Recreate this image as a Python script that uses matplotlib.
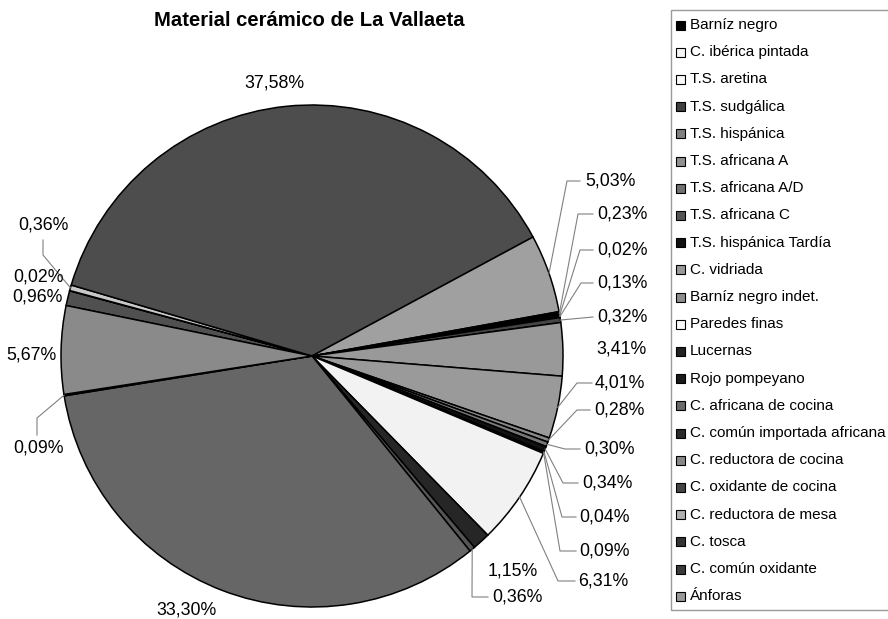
import numpy as np
import matplotlib.pyplot as plt
from matplotlib.patches import Rectangle

plt.rcParams['font.family'] = ['Liberation Sans', 'DejaVu Sans']

categories = ['Barníz negro', 'C. ibérica pintada', 'T.S. aretina', 'T.S. sudgálica',
              'T.S. hispánica', 'T.S. africana A', 'T.S. africana A/D', 'T.S. africana C',
              'T.S. hispánica Tardía', 'C. vidriada', 'Barníz negro indet.', 'Paredes finas',
              'Lucernas', 'Rojo pompeyano', 'C. africana de cocina',
              'C. común importada africana', 'C. reductora de cocina', 'C. oxidante de cocina',
              'C. reductora de mesa', 'C. tosca', 'C. común oxidante', 'Ánforas']
percent = [0.96, 0.02, 0.36, 37.58, 5.03, 0.23, 0.02, 0.13, 0.32, 3.41, 4.01, 0.28,
           0.30, 0.34, 0.04, 0.09, 6.31, 1.15, 0.36, 33.30, 0.09, 5.67]

# grey tones as they come out in the slices and in the legend
slice_colors = ['#505050', '#cccccc', '#c8c8c8', '#4d4d4d', '#a0a0a0', '#000000', '#222222',
                '#111111', '#444444', '#999999', '#9a9a9a', '#888888', '#777777', '#111111',
                '#333333', '#000000', '#f2f2f2', '#262626', '#555555', '#666666', '#444444',
                '#8a8a8a']
legend_colors = ['#000000', '#f4f4f4', '#f8f8f8', '#404040', '#808080', '#909090', '#707070',
                 '#555555', '#111111', '#999999', '#8c8c8c', '#f8f8f8', '#222222', '#1a1a1a',
                 '#6a6a6a', '#2a2a2a', '#888888', '#444444', '#b0b0b0', '#333333', '#3a3a3a',
                 '#999999']

# label centres (pixels) and leader elbows, same order as categories
label_xy = [(37, 297), (38, 277), (43, 225), (274, 83), (610, 181), (622, 214), (622, 250),
            (622, 283), (622, 317), (621, 349), (620, 383), (619, 410), (609, 449), (607, 483),
            (604, 517), (604, 551), (603, 581), (513, 571), (517, 597), (186, 610), (38, 448),
            (31, 355)]
leaders = {2: [(43, 240), (43, 255)], 4: [(580, 181), (567, 181)], 5: [(593, 214), (578, 214)],
           6: [(593, 250), (580, 250)], 7: [(593, 283), (581, 283)], 8: [(593, 317)],
           10: [(592, 383), (577, 383)], 11: [(590, 410), (577, 410)],
           12: [(580, 449), (565, 449)], 13: [(578, 483), (563, 483)],
           14: [(576, 517), (562, 517)], 15: [(576, 551), (560, 551)],
           16: [(575, 581), (558, 581)], 18: [(488, 597), (472, 597)],
           20: [(37, 435), (37, 418)]}

cx, cy, r = 312, 356, 251

fig = plt.figure(figsize=(8.88, 6.19), dpi=100)
ax = fig.add_axes([0, 0, 1, 1])

# y axis runs downward, so counterclock=True here turns clockwise on screen
wedges, _ = ax.pie(percent, colors=slice_colors, center=(cx, cy), radius=r,
                   startangle=-168.4, counterclock=True,
                   wedgeprops=dict(edgecolor='black', linewidth=1.1))
ax.set_xlim(0, 888)
ax.set_ylim(619, 0)
ax.set_aspect('auto')
ax.axis('off')

for i, w in enumerate(wedges):
    txt = f'{percent[i]:.2f}'.replace('.', ',') + '%'
    x, y = label_xy[i]
    ax.text(x, y, txt, ha='center', va='center', fontsize=12.8)
    if i in leaders:
        mid = np.deg2rad((w.theta1 + w.theta2) / 2)
        pts = leaders[i] + [(cx + r * np.cos(mid), cy + r * np.sin(mid))]
        ax.plot([p[0] for p in pts], [p[1] for p in pts], color='#808080', lw=0.8)

ax.text(309, 20, 'Material cerámico de La Vallaeta', ha='center', va='center',
        fontsize=14.6, fontweight='bold')

# legend box
ax.add_patch(Rectangle((671, 10), 240, 600, facecolor='white', edgecolor='#999999', lw=1))
for i, (name, col) in enumerate(zip(categories, legend_colors)):
    y = 25 + 27.2 * i
    ax.add_patch(Rectangle((676, y - 4.5), 9, 9, facecolor=col, edgecolor='black', lw=0.8))
    ax.text(690, y, name, ha='left', va='center', fontsize=11)

fig.savefig('out.png', dpi=100)
